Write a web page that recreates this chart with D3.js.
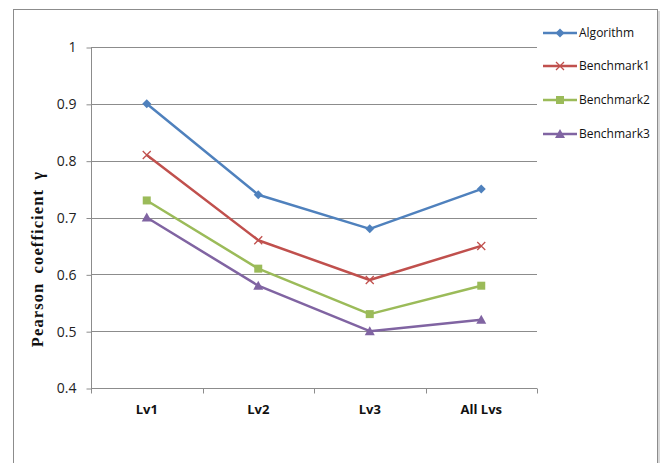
<!DOCTYPE html>
<html><head><meta charset="utf-8">
<script src="https://cdn.jsdelivr.net/npm/d3@7"></script>
<style>body{margin:0;background:#fff}svg{display:block}</style>
</head><body>
<script>
const categories = ["Lv1", "Lv2", "Lv3", "All Lvs"];
const seriesNames = ["Algorithm", "Benchmark1", "Benchmark2", "Benchmark3"];
const algorithm = [0.90, 0.74, 0.68, 0.75];
const benchmark1 = [0.81, 0.66, 0.59, 0.65];
const benchmark2 = [0.73, 0.61, 0.53, 0.58];
const benchmark3 = [0.70, 0.58, 0.50, 0.52];
const yTicks = [0.4, 0.5, 0.6, 0.7, 0.8, 0.9, 1];
const colors = ["#4F81BD", "#C0504D", "#9BBB59", "#8064A2"];
const markers = ["diamond", "cross", "square", "triangle"];
const seriesValues = [algorithm, benchmark1, benchmark2, benchmark3];

(function () {
const W = 664, H = 463;
const svg = d3.select("body").append("svg").attr("width", W).attr("height", H);

// outer chart border + shadow
svg.append("rect").attr("x", 14).attr("y", 11).attr("width", 646).attr("height", 470).attr("fill", "#d9d9d9");
svg.append("rect").attr("x", 13.5).attr("y", 9.5).attr("width", 644).attr("height", 470)
  .attr("fill", "#fff").attr("stroke", "#8c8c8c").attr("stroke-width", 1);

const pL = 91, pR = 537, pT = 47, pB = 388;
const x = d3.scaleBand().domain(categories).range([pL, pR]);
const y = d3.scaleLinear().domain([0.4, 1]).range([pB, pT]);

// gridlines
svg.append("g").selectAll("line").data(yTicks.slice(1)).join("line")
  .attr("x1", pL).attr("x2", pR)
  .attr("y1", d => Math.round(y(d)) + 0.5).attr("y2", d => Math.round(y(d)) + 0.5)
  .attr("stroke", "#8c8c8c").attr("stroke-width", 1);

// y axis
const yAxis = d3.axisLeft(y).tickValues(yTicks).tickSize(5).tickPadding(10).tickFormat(d3.format("~g"));
const gy = svg.append("g").attr("transform", `translate(${pL + 0.5},0.5)`).call(yAxis);
gy.selectAll("path,line").attr("stroke", "#8c8c8c");
gy.selectAll("text").attr("font-family", "'Open Sans', sans-serif").attr("font-size", 14).attr("fill", "#222");
gy.select(".domain").attr("d", `M0,${y(1)}V${pB}`);

// x axis
const xAxis = d3.axisBottom(x).tickSize(0).tickPadding(16);
const gx = svg.append("g").attr("transform", `translate(0,${pB + 0.5})`).call(xAxis);
gx.select(".domain").attr("stroke", "#8c8c8c").attr("d", `M${pL},0H${pR}`);
gx.selectAll("text").attr("font-family", "'Open Sans', sans-serif").attr("font-size", 13).attr("font-weight", "bold").attr("fill", "#111");
const bounds = categories.map(c => x(c)).concat([pR]);
gx.append("g").selectAll("line").data(bounds).join("line")
  .attr("x1", d => Math.round(d) + 0.5).attr("x2", d => Math.round(d) + 0.5)
  .attr("y1", 0).attr("y2", 5).attr("stroke", "#8c8c8c");

// y label
svg.append("text").attr("transform", `translate(43,259) rotate(-90)`)
  .attr("text-anchor", "middle").attr("font-family", "'Liberation Serif', 'Times New Roman', serif")
  .attr("font-size", 16.5).attr("font-weight", "bold").attr("fill", "#111")
  .attr("letter-spacing", 1.1).attr("word-spacing", 4)
  .text("Pearson coefficient γ");

function drawMarker(g, type, color) {
  if (type === "diamond") g.append("path").attr("d", "M0,-4.5L4.5,0L0,4.5L-4.5,0Z").attr("fill", color);
  else if (type === "square") g.append("rect").attr("x", -4).attr("y", -4).attr("width", 8).attr("height", 8).attr("fill", color);
  else if (type === "triangle") g.append("path").attr("d", "M0,-5L5,4L-5,4Z").attr("fill", color);
  else if (type === "cross") g.append("path").attr("d", "M-4,-4L4,4M-4,4L4,-4").attr("stroke", color).attr("stroke-width", 1.3).attr("fill", "none");
}

const line = d3.line().x((d, i) => x(categories[i]) + x.bandwidth() / 2).y(d => y(d));
seriesValues.forEach((vals, s) => {
  svg.append("path").datum(vals).attr("d", line).attr("fill", "none")
    .attr("stroke", colors[s]).attr("stroke-width", 2.5).attr("stroke-linejoin", "round");
  vals.forEach((v, i) => {
    const g = svg.append("g").attr("transform", `translate(${x(categories[i]) + x.bandwidth() / 2},${y(v)})`);
    drawMarker(g, markers[s], colors[s]);
  });
});

// legend
const legendY = [33, 66, 100, 134];
seriesNames.forEach((name, s) => {
  const g = svg.append("g").attr("transform", `translate(0,${legendY[s]})`);
  g.append("line").attr("x1", 543).attr("x2", 577).attr("y1", 0).attr("y2", 0)
    .attr("stroke", colors[s]).attr("stroke-width", 2.5);
  const m = g.append("g").attr("transform", "translate(560,0)");
  drawMarker(m, markers[s], colors[s]);
  g.append("text").attr("x", 579).attr("y", 0).attr("dy", "0.35em")
    .attr("font-family", "'Open Sans', sans-serif").attr("font-size", 12).attr("fill", "#111").text(name);
});
})();
</script>
</body></html>
